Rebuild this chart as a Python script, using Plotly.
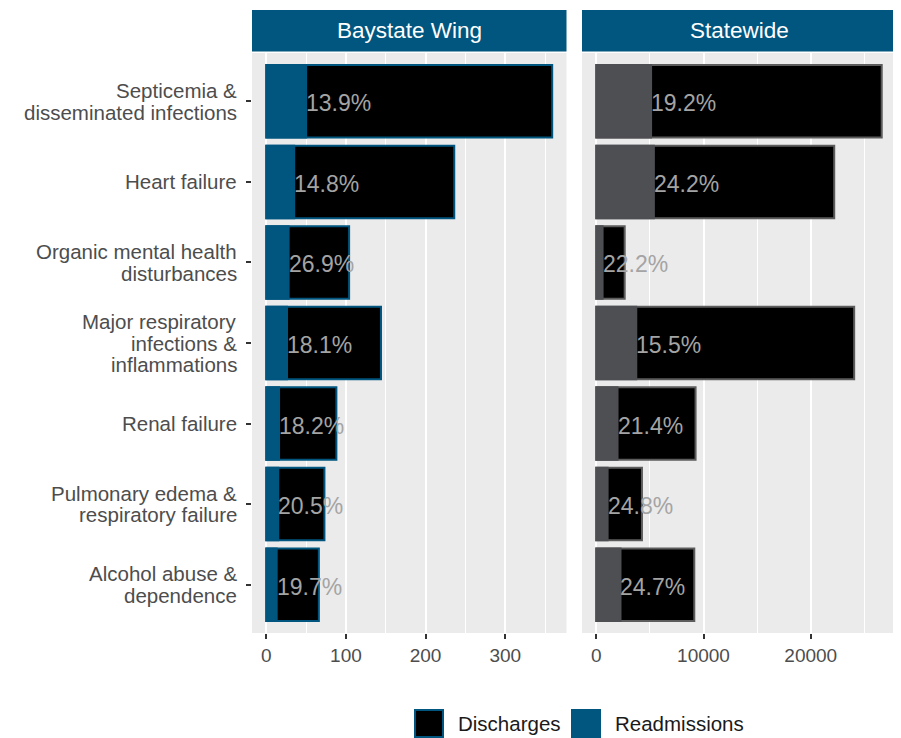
import plotly.graph_objects as go

# ---------------- data ----------------
categories = [
    "Septicemia & disseminated infections",
    "Heart failure",
    "Organic mental health disturbances",
    "Major respiratory infections & inflammations",
    "Renal failure",
    "Pulmonary edema & respiratory failure",
    "Alcohol abuse & dependence",
]
category_labels = [
    "Septicemia &\ndisseminated infections",
    "Heart failure",
    "Organic mental health\ndisturbances",
    "Major respiratory\ninfections &\ninflammations",
    "Renal failure",
    "Pulmonary edema &\nrespiratory failure",
    "Alcohol abuse &\ndependence",
]
bw_discharges = [359, 236, 104, 144, 88, 73, 66]
bw_readmissions = [50, 35, 28, 26, 16, 15, 13]
bw_pct = ["13.9%", "14.8%", "26.9%", "18.1%", "18.2%", "20.5%", "19.7%"]

sw_discharges = [26620, 22190, 2650, 24050, 9260, 4260, 9140]
sw_readmissions = [5111, 5370, 588, 3728, 1982, 1056, 2258]
sw_pct = ["19.2%", "24.2%", "22.2%", "15.5%", "21.4%", "24.8%", "24.7%"]

panel_titles = ["Baystate Wing", "Statewide"]
bw_ticks = [0, 100, 200, 300]
bw_minor = [50, 150, 250, 350]
sw_ticks = [0, 10000, 20000]
sw_minor = [5000, 15000, 25000]

# ---------------- style ----------------
BLUE = "#00567F"
GRAY = "#4E4F53"
GRAY_LINE = "#5C5C5C"
LABEL_GRAY = "#A4A4A4"
FONT = "Liberation Sans, Arial, sans-serif"
TXT = "#4D4D4D"

fig = go.Figure()

# Baystate Wing panel
fig.add_trace(go.Bar(y=categories, x=bw_discharges, orientation="h", width=0.9,
                     marker=dict(color="black", line=dict(color=BLUE, width=2)),
                     name="Discharges", showlegend=False, xaxis="x", yaxis="y"))
fig.add_trace(go.Bar(y=categories, x=bw_readmissions, orientation="h", width=0.9,
                     marker=dict(color=BLUE, line=dict(color=BLUE, width=2)),
                     name="Readmissions", showlegend=False, xaxis="x", yaxis="y"))

# Statewide panel
fig.add_trace(go.Bar(y=categories, x=sw_discharges, orientation="h", width=0.9,
                     marker=dict(color="black", line=dict(color=GRAY_LINE, width=2)),
                     name="Discharges", showlegend=False, xaxis="x2", yaxis="y2"))
fig.add_trace(go.Bar(y=categories, x=sw_readmissions, orientation="h", width=0.9,
                     marker=dict(color=GRAY, line=dict(color=GRAY, width=2)),
                     name="Readmissions", showlegend=False, xaxis="x2", yaxis="y2"))

# page body has an 8px margin: work in reference pixels, shift by OFF
OFF = 8
W, H = 901 - OFF, 738 - OFF
PL, PR, PT, PB = 252, 896, 53, 633          # plot area in reference pixels
ml, mr, mt, mb = PL - OFF, W - (PR - OFF), PT - OFF, H - (PB - OFF)
pw, ph = PR - PL, PB - PT
left_dom = [0, (566.5 - PL) / pw]
right_dom = [(582 - PL) / pw, 1]

def px_x(pix):
    return (pix - PL) / pw

def py(pix):
    return (PB - pix) / ph

def xax(dom, rng, ticks, minor):
    return dict(domain=dom, range=rng, tickmode="array", tickvals=ticks,
                ticktext=[str(t) for t in ticks], showgrid=True, gridcolor="white",
                gridwidth=1.6, zeroline=False, ticks="outside", ticklen=5,
                tickwidth=2, tickcolor="#333333", showline=False,
                tickfont=dict(size=19, color=TXT, family=FONT),
                minor=dict(tickmode="array", tickvals=minor, showgrid=True,
                           gridcolor="white", gridwidth=0.8, ticks=""),
                fixedrange=True)

fig.update_layout(
    width=W, height=H,
    margin=dict(l=ml, r=mr, t=mt, b=mb, pad=0),
    paper_bgcolor="white", plot_bgcolor="#EBEBEB",
    barmode="overlay", bargap=0.1,
    font=dict(family=FONT, color=TXT),
    xaxis=xax(left_dom, [-0.05 * bw_discharges[0], 1.05 * bw_discharges[0]], bw_ticks, bw_minor),
    xaxis2=xax(right_dom, [-0.05 * sw_discharges[0], 1.05 * sw_discharges[0]], sw_ticks, sw_minor),
    yaxis=dict(type="category", categoryorder="array", categoryarray=categories,
               range=[len(categories) - 0.4, -0.6], showticklabels=False,
               ticks="outside", ticklen=5, tickwidth=2, tickcolor="#333333",
               showgrid=False, zeroline=False, fixedrange=True),
    yaxis2=dict(type="category", categoryorder="array", categoryarray=categories,
                range=[len(categories) - 0.4, -0.6], showticklabels=False, anchor="x2",
                ticks="", showgrid=False, zeroline=False, matches="y", fixedrange=True),
    showlegend=False,
)

shapes = []
annotations = []

# Percentage labels, left-aligned at the end of the readmissions bar
for xr, yr, vals, labs in [("x", "y", bw_readmissions, bw_pct), ("x2", "y2", sw_readmissions, sw_pct)]:
    for cat, v, lab in zip(categories, vals, labs):
        annotations.append(dict(xref=xr, yref=yr, x=v, y=cat, text=lab, showarrow=False,
                                xanchor="left", yanchor="middle", xshift=-1, yshift=-2,
                                borderpad=0,
                                font=dict(size=23, color=LABEL_GRAY, family=FONT)))

# Facet strips
for dom, title in zip([left_dom, right_dom], panel_titles):
    shapes.append(dict(type="rect", xref="paper", yref="paper", x0=dom[0], x1=dom[1],
                       y0=py(51.5), y1=py(10), fillcolor=BLUE, line=dict(width=0),
                       layer="above"))
    annotations.append(dict(xref="paper", yref="paper", x=(dom[0] + dom[1]) / 2,
                            y=(py(51.5) + py(10)) / 2, text=title, showarrow=False,
                            xanchor="center", yanchor="middle",
                            font=dict(size=22.5, color="white", family=FONT)))

# Category labels (tight line spacing like ggplot)
line_h = 21.7
for cat, lab in zip(categories, category_labels):
    lines = lab.split("\n")
    n = len(lines)
    for j, ln in enumerate(lines):
        annotations.append(dict(xref="paper", yref="y", x=0, y=cat, text=ln,
                                showarrow=False, xanchor="right", yanchor="middle",
                                xshift=-13, yshift=((n - 1) / 2 - j) * line_h,
                                font=dict(size=20.5, color=TXT, family=FONT)))

# Legend (manual, to match large swatches)
legend_items = [("Discharges", "black", BLUE, 415, 456), ("Readmissions", BLUE, BLUE, 572, 613)]
for name, fill, edge, sx, tx in legend_items:
    shapes.append(dict(type="rect", xref="paper", yref="paper", x0=px_x(sx), x1=px_x(sx + 28),
                       y0=py(737), y1=py(710), fillcolor=fill, line=dict(color=edge, width=2)))
    annotations.append(dict(xref="paper", yref="paper", x=px_x(tx), y=py(723.5), text=name,
                            showarrow=False, xanchor="left", yanchor="middle",
                            font=dict(size=20.5, color="#1A1A1A", family=FONT)))

fig.update_layout(shapes=shapes, annotations=annotations)
fig.write_html("out.html")
